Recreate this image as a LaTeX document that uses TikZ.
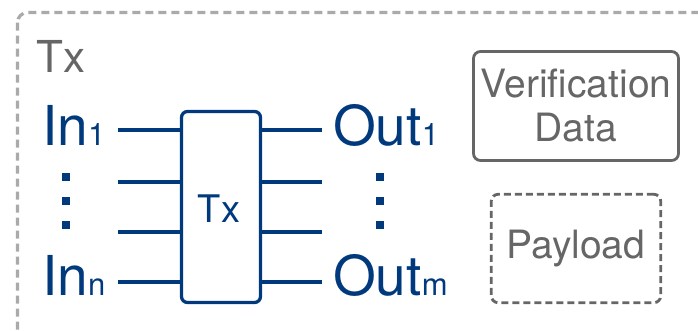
\documentclass[tikz,border=0pt]{standalone}
\usepackage{fontspec}
\setmainfont{TeX Gyre Heros}
\usetikzlibrary{positioning}
\definecolor{navy}{HTML}{003A7D}
\definecolor{slate}{HTML}{666666}
\definecolor{frame}{HTML}{AAAAAA}
\newcommand\bigfs{\fontsize{55bp}{60bp}\selectfont}
\newcommand\subfs{\fontsize{31bp}{34bp}\selectfont}
\newcommand\midfs{\fontsize{39bp}{44bp}\selectfont}

\begin{document}
\begin{tikzpicture}[
  x=1bp, y=-1bp,
  gate/.style={draw=navy, line width=3.3bp, rounded corners=6bp,
               minimum width=79bp, minimum height=191bp, inner sep=0pt},
  wire/.style={draw=navy, line width=3.3bp},
  port/.style={text=navy, inner sep=0pt, font=\bigfs},
  dotsq/.style={fill=navy, minimum size=8.5bp, inner sep=0pt},
  card/.style={draw=slate, line width=2.8bp, rounded corners=7bp,
               text=slate, font=\midfs, align=center, inner sep=0pt},
  ghost/.style={card, dash pattern=on 7bp off 4bp},
  shell/.style={draw=frame, line width=3.2bp, rounded corners=10bp,
                dash pattern=on 8bp off 5bp},
]
\useasboundingbox (0,0) rectangle (698,330);

% ---- outer transaction frame ------------------------------------------------
\draw[shell] (17.5,12.5) rectangle (720,345);
\node[text=slate, inner sep=0pt, anchor=base west,
      font=\fontsize{44bp}{48bp}\selectfont] (title) at (36,72) {Tx};

% ---- the transaction box ----------------------------------------------------
\node[gate] (tx) at (221,207) {};
\node[text=navy, inner sep=0pt, anchor=base,
      font=\fontsize{38bp}{42bp}\selectfont] (txlbl) at (219,222) {Tx};

% inputs
\node[port, anchor=base west] (in1) at (42,145) {In{\subfs 1}};
\node[port, anchor=base west] (inn) at (42,295) {In{\subfs n}};
\coordinate (i1) at (118,130);
\coordinate (i2) at (118,182);
\coordinate (i3) at (118,232);
\coordinate (i4) at (118,282);
\draw[wire] (i1) -- (i1 -| tx.west);
\draw[wire] (i2) -- (i2 -| tx.west);
\draw[wire] (i3) -- (i3 -| tx.west);
\draw[wire] (i4) -- (i4 -| tx.west);

\node[dotsq] (ld1) at (66,177) {};
\node[dotsq] (ld2) at (66,201) {};
\node[dotsq] (ld3) at (66,225) {};

% outputs
\node[port, anchor=base west] (out1) at (333,145) {Out{\subfs 1}};
\node[port, anchor=base west] (outm) at (333,295) {Out{\subfs m}};
\coordinate (o1) at (322,130);
\coordinate (o2) at (322,182);
\coordinate (o3) at (322,232);
\coordinate (o4) at (322,282);
\draw[wire] (tx.east |- o1) -- (o1);
\draw[wire] (tx.east |- o2) -- (o2);
\draw[wire] (tx.east |- o3) -- (o3);
\draw[wire] (tx.east |- o4) -- (o4);

\node[dotsq] (rd1) at (380,177) {};
\node[dotsq] (rd2) at (380,201) {};
\node[dotsq] (rd3) at (380,225) {};

% ---- side data --------------------------------------------------------------
\node[card, minimum width=205bp, minimum height=109bp] (verif) at (576,106)
  {Verification\\Data};
\node[ghost, minimum width=169.5bp, minimum height=108.5bp] (payload) at (576,248.5)
  {Payload};

\end{tikzpicture}
\end{document}
